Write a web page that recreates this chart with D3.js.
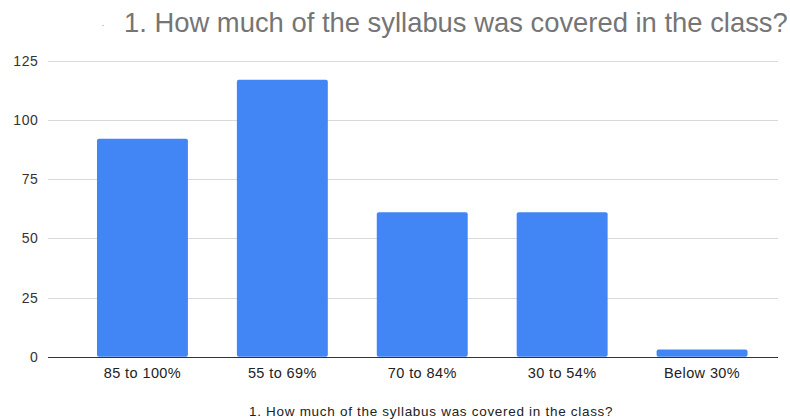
<!DOCTYPE html>
<html><head><meta charset="utf-8">
<script src="https://cdn.jsdelivr.net/npm/d3@7"></script>
<style>body{margin:0;background:#fff}svg{display:block}</style>
</head><body>
<svg id="c" width="790" height="419"></svg>
<script>
const categories = ["85 to 100%", "55 to 69%", "70 to 84%", "30 to 54%", "Below 30%"];
const counts = [92, 117, 61, 61, 3];
const yTicks = [0, 25, 50, 75, 100, 125];
const titleText = "1. How much of the syllabus was covered in the class?";

const svg = d3.select("#c");
const font = "'Liberation Sans', Arial, sans-serif";
const gridL = 48, gridR = 778;
const x = d3.scaleBand().domain(categories).range([72.5, 772]).paddingInner(0.35).paddingOuter(0.175);
const y = d3.scaleLinear().domain([0, 125]).range([356.7, 60.7]);

// gridlines
svg.append("g").selectAll("line").data(yTicks.filter(d => d > 0)).join("line")
  .attr("x1", gridL).attr("x2", gridR)
  .attr("y1", d => Math.round(y(d)) + 0.5).attr("y2", d => Math.round(y(d)) + 0.5)
  .attr("stroke", "#d9d9d9").attr("stroke-width", 1);

// y labels
svg.append("g").selectAll("text").data(yTicks).join("text")
  .attr("x", 38.5).attr("y", d => y(d) + 5)
  .attr("text-anchor", "end").attr("font-family", font).attr("font-size", 14)
  .attr("letter-spacing", 0.6)
  .attr("fill", "#333").text(d => d);

// bars
svg.append("g").selectAll("rect").data(counts).join("rect")
  .attr("x", (d, i) => x(categories[i])).attr("width", x.bandwidth())
  .attr("y", d => y(d)).attr("height", d => y(0) - y(d))
  .attr("rx", 2).attr("fill", "#4285f4");

// baseline
svg.append("line").attr("x1", gridL).attr("x2", gridR)
  .attr("y1", Math.round(y(0)) + 0.5).attr("y2", Math.round(y(0)) + 0.5)
  .attr("stroke", "#333").attr("stroke-width", 1);

// x labels
svg.append("g").selectAll("text").data(categories).join("text")
  .attr("x", d => x(d) + x.bandwidth() / 2).attr("y", 377.5)
  .attr("text-anchor", "middle").attr("font-family", font).attr("font-size", 14.5)
  .attr("letter-spacing", 0.4)
  .attr("fill", "#222").text(d => d);

// axis title
svg.append("text").attr("x", 249).attr("y", 416)
  .attr("font-family", font).attr("font-size", 13.5).attr("letter-spacing", 0.7)
  .attr("fill", "#222").text(titleText);

// chart title
svg.append("circle").attr("cx", 103).attr("cy", 25.5).attr("r", 0.8).attr("fill", "#bbb");
svg.append("text").attr("x", 124).attr("y", 32).attr("font-family", font)
  .attr("font-size", 27.4).attr("fill", "#757575").text(titleText);
</script>
</body></html>
